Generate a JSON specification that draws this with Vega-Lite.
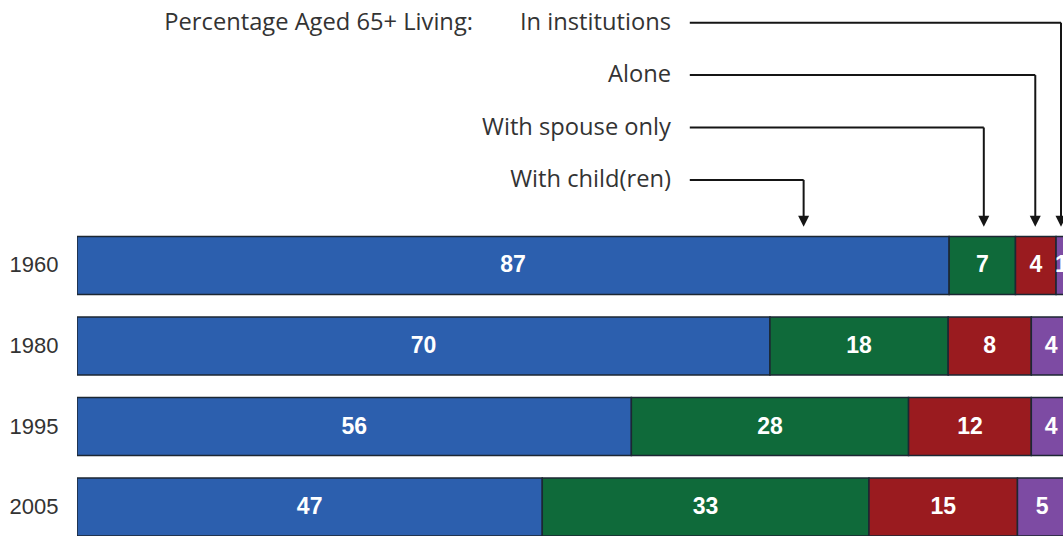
{
  "$schema": "https://vega.github.io/schema/vega-lite/v6.json",
  "width": 986,
  "height": 536,
  "autosize": {"type": "none"},
  "padding": {"left": 77, "top": 0, "right": 0, "bottom": 0},
  "background": "white",
  "config": {"view": {"stroke": null}},
  "datasets": {
    "bars": [
      {"year": "1960", "category": "With child(ren)", "order": 1, "pct": 88.1, "label": "87"},
      {"year": "1960", "category": "With spouse only", "order": 2, "pct": 6.7, "label": "7"},
      {"year": "1960", "category": "Alone", "order": 3, "pct": 4.1, "label": "4"},
      {"year": "1960", "category": "In institutions", "order": 4, "pct": 1.1, "label": "1"},
      {"year": "1980", "category": "With child(ren)", "order": 1, "pct": 70, "label": "70"},
      {"year": "1980", "category": "With spouse only", "order": 2, "pct": 18, "label": "18"},
      {"year": "1980", "category": "Alone", "order": 3, "pct": 8.4, "label": "8"},
      {"year": "1980", "category": "In institutions", "order": 4, "pct": 4, "label": "4"},
      {"year": "1995", "category": "With child(ren)", "order": 1, "pct": 56, "label": "56"},
      {"year": "1995", "category": "With spouse only", "order": 2, "pct": 28, "label": "28"},
      {"year": "1995", "category": "Alone", "order": 3, "pct": 12.4, "label": "12"},
      {"year": "1995", "category": "In institutions", "order": 4, "pct": 4, "label": "4"},
      {"year": "2005", "category": "With child(ren)", "order": 1, "pct": 47, "label": "47"},
      {"year": "2005", "category": "With spouse only", "order": 2, "pct": 33, "label": "33"},
      {"year": "2005", "category": "Alone", "order": 3, "pct": 15, "label": "15"},
      {"year": "2005", "category": "In institutions", "order": 4, "pct": 5, "label": "5"}
    ],
    "notes": [
      {"label": "In institutions", "arrowX": 99.4, "target": "bars"},
      {"label": "Alone", "arrowX": 96.8, "target": "bars"},
      {"label": "With spouse only", "arrowX": 91.6, "target": "bars"},
      {"label": "With child(ren)", "arrowX": 73.4, "target": "bars"}
    ]
  },
  "layer": [
    {
      "data": {"name": "bars"},
      "transform": [
        {"stack": "pct", "groupby": ["year"], "sort": [{"field": "order"}], "as": ["x0", "x1"]}
      ],
      "encoding": {
        "y": {
          "field": "year",
          "type": "nominal",
          "sort": ["1960", "1980", "1995", "2005"],
          "scale": {"type": "band", "range": [236.5, 536], "paddingInner": 0.28, "paddingOuter": 0},
          "axis": {
            "title": null,
            "domain": false,
            "ticks": false,
            "labelPadding": 19,
            "labelFont": "Liberation Sans",
            "labelFontSize": 22,
            "labelColor": "#333333"
          }
        }
      },
      "layer": [
        {
          "mark": {"type": "bar", "stroke": "#1c2733", "strokeWidth": 1.5, "clip": true},
          "encoding": {
            "x": {"field": "x0", "type": "quantitative", "scale": {"domain": [0, 99.6], "nice": false, "zero": false}, "axis": null},
            "x2": {"field": "x1"},
            "color": {
              "field": "category",
              "type": "nominal",
              "scale": {
                "domain": ["With child(ren)", "With spouse only", "Alone", "In institutions"],
                "range": ["#2c5fae", "#0f6a3a", "#9a1b1f", "#7d4ba3"]
              },
              "legend": null
            }
          }
        },
        {
          "transform": [{"fold": ["x0", "x1"], "as": ["edge", "pos"]}],
          "mark": {"type": "text", "color": "white", "font": "Liberation Sans", "fontWeight": "bold", "fontSize": 23, "baseline": "middle", "align": "center", "clip": true},
          "encoding": {
            "x": {"aggregate": "mean", "field": "pos", "type": "quantitative"},
            "detail": {"field": "category", "type": "nominal"},
            "text": {"field": "label", "type": "nominal"}
          }
        }
      ]
    },
    {
      "data": {"name": "notes"},
      "encoding": {
        "y": {
          "field": "label",
          "type": "nominal",
          "scale": {"type": "point", "domain": ["In institutions", "Alone", "With spouse only", "With child(ren)", "bars"], "range": [22.7, 232.3], "padding": 0},
          "axis": null
        }
      },
      "layer": [
        {
          "mark": {"type": "rule", "color": "#151515", "strokeWidth": 2},
          "encoding": {
            "x": {"field": "arrowX", "type": "quantitative"},
            "x2": {"datum": 61.9}
          }
        },
        {
          "mark": {"type": "rule", "color": "#151515", "strokeWidth": 2, "y2Offset": -10},
          "encoding": {
            "x": {"field": "arrowX", "type": "quantitative"},
            "y2": {"field": "target"}
          }
        },
        {
          "mark": {"type": "point", "shape": "M-1,-1L1,-1L0,1Z", "filled": true, "color": "#151515", "opacity": 1, "size": 121, "yOffset": -11},
          "encoding": {
            "x": {"field": "arrowX", "type": "quantitative"},
            "y": {"field": "target", "type": "nominal"}
          }
        },
        {
          "mark": {"type": "text", "align": "right", "baseline": "middle", "font": "Open Sans", "fontSize": 23.7, "color": "#333333"},
          "encoding": {
            "x": {"datum": 60.0, "type": "quantitative"},
            "text": {"field": "label", "type": "nominal"}
          }
        },
        {
          "transform": [{"filter": "datum.label === 'In institutions'"}],
          "mark": {"type": "text", "align": "right", "baseline": "middle", "font": "Open Sans", "fontSize": 23.7, "color": "#333333"},
          "encoding": {
            "x": {"datum": 40.0, "type": "quantitative"},
            "text": {"value": "Percentage Aged 65+ Living:"}
          }
        }
      ]
    }
  ],
  "resolve": {"scale": {"y": "independent"}, "axis": {"y": "independent"}}
}
